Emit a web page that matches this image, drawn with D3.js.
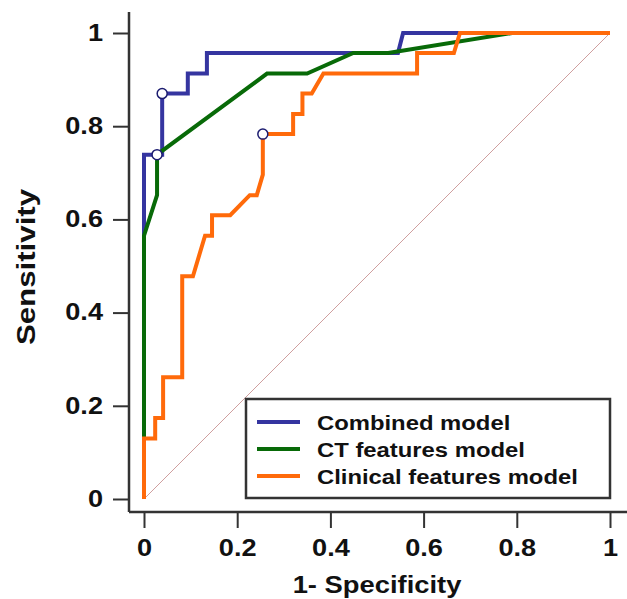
<!DOCTYPE html>
<html>
<head>
<meta charset="utf-8">
<script src="https://cdn.jsdelivr.net/npm/d3@7"></script>
<style>
  body { margin: 0; background: #fff; }
  text { font-family: Arial, "Liberation Sans", sans-serif; font-weight: bold; fill: #111; }
</style>
</head>
<body>
<script>
// ROC curves
var combinedFpr = [0, 0, 0.039, 0.039, 0.094, 0.094, 0.135, 0.135, 0.545, 0.556, 1];
var combinedTpr = [0, 0.739, 0.739, 0.870, 0.870, 0.913, 0.913, 0.957, 0.957, 1, 1];

var ctFpr = [0, 0, 0.028, 0.028, 0.264, 0.35, 0.449, 0.524, 0.79, 1];
var ctTpr = [0, 0.565, 0.652, 0.739, 0.913, 0.913, 0.957, 0.957, 1, 1];

var clinFpr = [0, 0, 0.024, 0.024, 0.041, 0.041, 0.082, 0.082, 0.105, 0.131, 0.146, 0.146, 0.185, 0.227, 0.242, 0.255, 0.255, 0.32, 0.32, 0.34, 0.34, 0.36, 0.385, 0.586, 0.586, 0.665, 0.678, 1];
var clinTpr = [0, 0.130, 0.130, 0.174, 0.174, 0.261, 0.261, 0.478, 0.478, 0.565, 0.565, 0.609, 0.609, 0.652, 0.652, 0.696, 0.783, 0.783, 0.826, 0.826, 0.870, 0.870, 0.913, 0.913, 0.957, 0.957, 1, 1];

// cut-off points (circles)
var cutFpr = [0.039, 0.028, 0.255];
var cutTpr = [0.870, 0.739, 0.783];

var seriesNames = ["Combined model", "CT features model", "Clinical features model"];
var seriesColors = ["#3535a0", "#086a08", "#ff6a0a"];

var majorTicks = [0, 0.2, 0.4, 0.6, 0.8, 1];
var minorTicks = d3.range(0, 1.0001, 0.05);

var W = 627, H = 599;

var x = d3.scaleLinear().domain([0, 1]).range([144, 610]);
var y = d3.scaleLinear().domain([0, 1]).range([499, 33]);

var axisX = 129, axisY = 512;

var svg = d3.select("body").append("svg")
    .attr("width", W)
    .attr("height", H);

function fmt(d) { return d === 0 || d === 1 ? String(d) : d3.format(".1f")(d); }

// the text in the picture is wider than plain Arial, so widen it a bit
function stretch(sel, s) {
  sel.each(function() {
    var t = d3.select(this);
    var tx = +t.attr("x") || 0, ty = +t.attr("y") || 0;
    t.attr("x", 0).attr("y", 0)
     .attr("transform", "translate(" + tx + "," + ty + ") scale(" + s + ",1)");
  });
}

// diagonal reference line
svg.append("line")
    .attr("x1", x(0)).attr("y1", y(0))
    .attr("x2", x(1)).attr("y2", y(1))
    .attr("stroke", "#cf9f9f")
    .attr("stroke-width", 1);

// curves
var curves = [[combinedFpr, combinedTpr], [ctFpr, ctTpr], [clinFpr, clinTpr]];
var line = d3.line().x(function(d) { return x(d[0]); }).y(function(d) { return y(d[1]); });

curves.forEach(function(c, i) {
  var pts = c[0].map(function(v, j) { return [v, c[1][j]]; });
  svg.append("path")
      .datum(pts)
      .attr("d", line)
      .attr("fill", "none")
      .attr("stroke", seriesColors[i])
      .attr("stroke-width", 4)
      .attr("stroke-linejoin", "miter");
});

svg.selectAll(".cut")
    .data(cutFpr)
    .enter().append("circle")
    .attr("class", "cut")
    .attr("cx", function(d) { return x(d); })
    .attr("cy", function(d, i) { return y(cutTpr[i]); })
    .attr("r", 5)
    .attr("fill", "#fff")
    .attr("stroke", "#1c1c70")
    .attr("stroke-width", 1.5);

// axes
var gy = svg.append("g").attr("transform", "translate(" + axisX + ",0)");
gy.call(d3.axisLeft(y).tickValues(minorTicks).tickSize(8).tickFormat(""));
gy.call(d3.axisLeft(y).tickValues(majorTicks).tickSize(16).tickPadding(10).tickFormat(fmt));

var gx = svg.append("g").attr("transform", "translate(0," + axisY + ")");
gx.call(d3.axisBottom(x).tickValues(minorTicks).tickSize(8).tickFormat(""));
gx.call(d3.axisBottom(x).tickValues(majorTicks).tickSize(16).tickPadding(12).tickFormat(fmt));

svg.selectAll(".domain").remove();
svg.selectAll(".tick line").attr("stroke", "#333").attr("stroke-width", 2);
svg.selectAll(".tick text")
    .attr("font-size", 23)
    .attr("font-family", "Arial, 'Liberation Sans', sans-serif")
    .attr("font-weight", "bold")
    .attr("fill", "#111");
stretch(svg.selectAll(".tick text"), 1.18);

svg.append("line")
    .attr("x1", axisX).attr("x2", axisX)
    .attr("y1", 12).attr("y2", axisY)
    .attr("stroke", "#333").attr("stroke-width", 2.5);
svg.append("line")
    .attr("x1", axisX).attr("x2", W)
    .attr("y1", axisY).attr("y2", axisY)
    .attr("stroke", "#333").attr("stroke-width", 2.5);

// axis titles
svg.append("text")
    .attr("transform", "translate(377,593) scale(1.14,1)")
    .attr("text-anchor", "middle")
    .attr("font-size", 24)
    .text("1- Specificity");

svg.append("text")
    .attr("transform", "translate(35,267) rotate(-90) scale(1.25,1)")
    .attr("text-anchor", "middle")
    .attr("font-size", 25)
    .text("Sensitivity");

// legend
var lg = svg.append("g");
lg.append("rect")
    .attr("x", 246).attr("y", 399)
    .attr("width", 364).attr("height", 99)
    .attr("fill", "#fff")
    .attr("stroke", "#333")
    .attr("stroke-width", 2.5);

seriesNames.forEach(function(name, i) {
  var ly = 422 + i * 27;
  lg.append("line")
      .attr("x1", 257).attr("x2", 300)
      .attr("y1", ly).attr("y2", ly)
      .attr("stroke", seriesColors[i])
      .attr("stroke-width", 4);
  lg.append("text")
      .attr("transform", "translate(317," + ly + ") scale(1.135,1)")
      .attr("dy", "0.36em")
      .attr("font-size", 21)
      .text(name);
});
</script>
</body>
</html>
